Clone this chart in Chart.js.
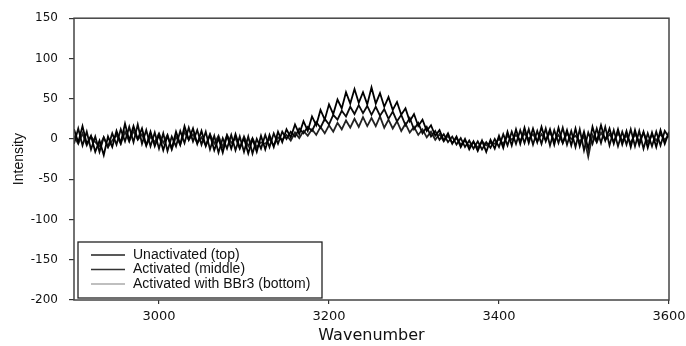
<!DOCTYPE html>
<html>
<head>
<meta charset="utf-8">
<script src="https://cdn.jsdelivr.net/npm/chart.js@4.4.1/dist/chart.umd.min.js"></script>
<style>
  html, body { margin: 0; padding: 0; background: #fff; }
  #wrap { width: 686px; height: 346px; }
</style>
</head>
<body>
<div id="wrap"><canvas id="spectrum" width="686" height="346"></canvas></div>
<script>
// sampling grid of the spectra (wavenumber, every 5 units)
const waveStart = 2900;
const waveStep = 5;

const xTicks = [3000, 3200, 3400, 3600];

const seriesNames = ['Unactivated (top)', 'Activated (middle)', 'Activated with BBr3 (bottom)'];

// 2900 .. 3600, 10 values per row (50 units)
const unactivated = [
  12, -4, 16, -6, 4, -16, -2, -20, 3, -10,
  10, -5, 19, -2, 16, 0, 13, -8, 9, -9,
  5, -14, 4, -12, 9, -7, 16, -1, 13, -6,
  10, -9, 5, -14, 1, -17, 4, -12, 6, -11,
  1, -18, 0, -16, 4, -13, 5, -10, 9, -4,
  12, 2, 18, 6, 22, 10, 28, 17, 36, 24,
  43, 31, 49, 38, 58, 44, 62, 45, 58, 43,
  64, 44, 57, 40, 52, 36, 46, 30, 38, 22,
  31, 16, 24, 10, 17, 4, 11, -2, 7, -6,
  3, -10, 0, -13, -3, -15, -2, -16, -1, -12,
  4, -11, 9, -8, 12, -6, 14, -5, 13, -4,
  15, -3, 12, -7, 14, -5, 11, -8, 13, -9,
  9, -12, 15, -3, 17, -2, 13, -6, 12, -7,
  10, -10, 11, -8, 9, -11, 8, -10, 11, -6,
  9
];

const activated = [
  -6, 13, -8, 9, -13, 3, -16, 2, -10, 7,
  -7, 12, -3, 15, -4, 18, -6, 11, -9, 8,
  -12, 7, -15, 3, -9, 10, -5, 14, -3, 11,
  -7, 9, -13, 4, -17, 1, -12, 5, -14, 3,
  -16, 3, -18, 0, -12, 5, -10, 7, -6, 9,
  0, 9, 3, 13, 7, 15, 10, 21, 14, 25,
  18, 30, 24, 35, 28, 40, 31, 42, 32, 41,
  30, 40, 29, 37, 25, 34, 22, 30, 17, 26,
  12, 20, 7, 15, 3, 10, -1, 6, -4, 3,
  -7, 1, -10, -2, -12, -3, -13, -4, -11, 0,
  -10, 6, -8, 9, -6, 11, -5, 12, -7, 10,
  -6, 13, -8, 11, -5, 14, -7, 10, -10, 12,
  -14, 8, -6, 13, -5, 15, -8, 11, -9, 9,
  -7, 12, -9, 10, -12, 7, -9, 9, -8, 10,
  2
];

const activatedBBr3 = [
  4, -6, 7, -8, 3, -4, -9, 2, -10, -2,
  5, -6, 9, -3, 10, -1, 6, -8, 3, -4,
  7, -5, 5, -13, 3, -7, 9, -1, 6, -5,
  2, -8, 6, -6, 4, -10, 5, -5, 1, -12,
  3, -9, 1, -10, -4, -6, 0, -8, 2, -1,
  5, -2, 8, 1, 10, 4, 12, 5, 15, 7,
  17, 9, 20, 12, 23, 14, 25, 15, 27, 16,
  26, 16, 28, 14, 24, 13, 22, 10, 19, 8,
  15, 5, 12, 2, 9, -1, 6, -3, 4, -5,
  1, -7, -2, -9, -4, -11, -3, -8, -5, -6,
  0, -6, 4, -1, 5, -2, 7, 0, 6, -3,
  6, -1, 8, -2, 5, -5, 7, 0, 4, -3,
  3, -22, 5, -4, 8, -1, 6, -3, 7, -2,
  4, -5, 6, -3, 8, -4, 5, -2, 6, -1,
  5
];

function toPoints(values) {
  return values.map((v, i) => ({ x: waveStart + i * waveStep, y: v }));
}

// frame round the plot + boxed legend in the lower left corner
const framePlugin = {
  id: 'frame',
  afterDraw(chart) {
    const ctx = chart.ctx;
    const a = chart.chartArea;
    ctx.save();
    ctx.strokeStyle = '#444';
    ctx.lineWidth = 1.5;
    ctx.strokeRect(a.left, a.top, a.right - a.left, a.bottom - a.top);

    // legend
    const bx = a.left + 4, by = a.bottom - 58, bw = 244, bh = 56;
    ctx.fillStyle = '#fff';
    ctx.fillRect(bx, by, bw, bh);
    ctx.strokeStyle = '#222';
    ctx.lineWidth = 1.3;
    ctx.strokeRect(bx, by, bw, bh);
    ctx.font = '14px "Liberation Sans", Arial, sans-serif';
    ctx.textBaseline = 'middle';
    ctx.textAlign = 'left';
    chart.data.datasets.forEach((ds, i) => {
      const y = by + 13 + i * 14.5;
      ctx.strokeStyle = ds.legendColor;
      ctx.lineWidth = 1.4;
      ctx.beginPath();
      ctx.moveTo(bx + 13, y);
      ctx.lineTo(bx + 47, y);
      ctx.stroke();
      ctx.fillStyle = '#111';
      ctx.fillText(ds.label, bx + 55, y);
    });
    ctx.restore();
  }
};

new Chart(document.getElementById('spectrum').getContext('2d'), {
  type: 'line',
  data: {
    datasets: [
      { label: seriesNames[0], data: toPoints(unactivated), borderColor: '#000', legendColor: '#222' },
      { label: seriesNames[1], data: toPoints(activated), borderColor: '#0a0a0a', legendColor: '#333' },
      { label: seriesNames[2], data: toPoints(activatedBBr3), borderColor: '#222', legendColor: '#aaa' }
    ]
  },
  options: {
    responsive: false,
    animation: false,
    devicePixelRatio: 1,
    elements: {
      point: { radius: 0 },
      line: { borderWidth: 1.8, tension: 0 }
    },
    layout: { padding: { top: 16, right: 17, left: 0, bottom: 0 } },
    plugins: {
      legend: { display: false },
      tooltip: { enabled: false }
    },
    scales: {
      x: {
        type: 'linear',
        min: 2900,
        max: 3600,
        afterFit(scale) {
          scale.height = 46;
          scale.paddingRight = 0;
          scale.paddingLeft = 0;
        },
        afterBuildTicks(scale) { scale.ticks = xTicks.map(v => ({ value: v })); },
        border: { display: false },
        grid: { drawOnChartArea: false, drawTicks: true, tickLength: 4, color: '#333', lineWidth: 1.2 },
        ticks: {
          padding: 5,
          color: '#111',
          callback: v => String(v),
          font: { family: '"DejaVu Sans", sans-serif', size: 13 }
        },
        title: {
          display: true,
          text: 'Wavenumber',
          color: '#111',
          padding: { top: 0, bottom: 1 },
          font: { family: '"DejaVu Sans", sans-serif', size: 16 }
        }
      },
      y: {
        min: -200,
        max: 150,
        afterFit(scale) { scale.width = 74; },
        border: { display: false },
        grid: { drawOnChartArea: false, drawTicks: true, tickLength: 5, color: '#333', lineWidth: 1.2 },
        ticks: {
          stepSize: 50,
          padding: 11,
          color: '#111',
          font: { family: '"DejaVu Sans", sans-serif', size: 12 }
        },
        title: {
          display: true,
          text: 'Intensity',
          color: '#111',
          padding: { top: 11, bottom: 0 },
          font: { family: '"Liberation Sans Narrow", "Liberation Sans", sans-serif', size: 14 }
        }
      }
    }
  },
  plugins: [framePlugin]
});
</script>
</body>
</html>
